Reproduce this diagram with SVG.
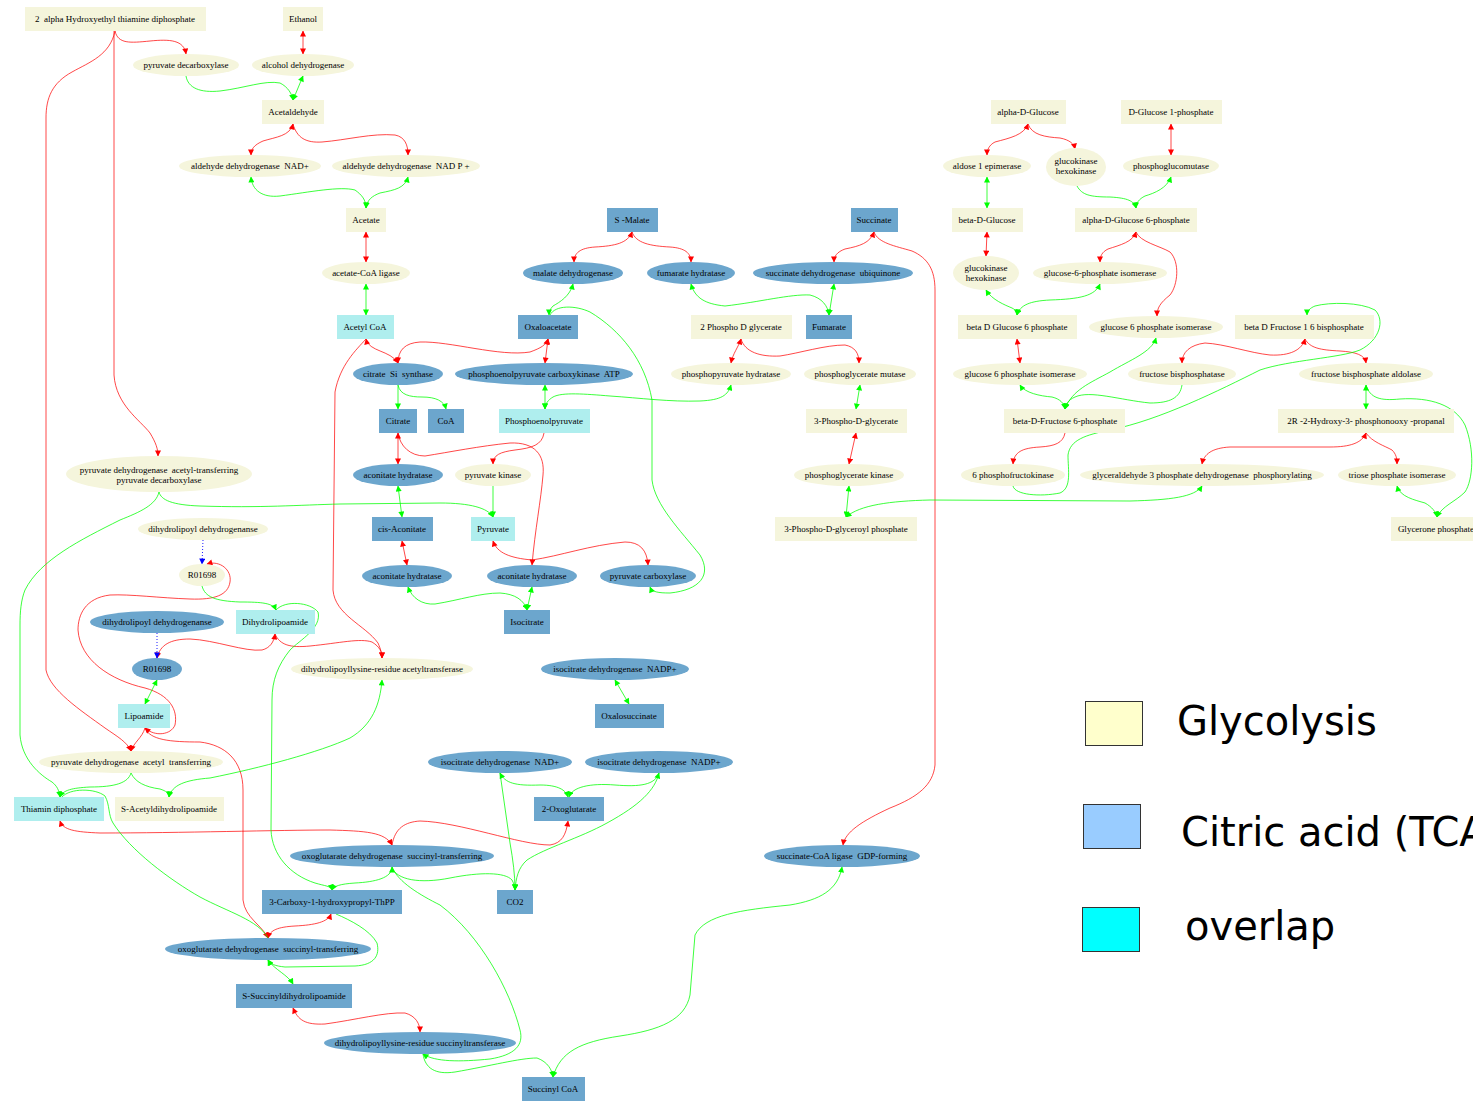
<svg xmlns="http://www.w3.org/2000/svg" width="1473" height="1101" viewBox="0 0 1473 1101">
<style>
path{fill:none;stroke-width:0.9}
.r{stroke:#ff0000;stroke-opacity:.8}.g{stroke:#00ff00;stroke-opacity:.85}.b{stroke:#0000ff;stroke-dasharray:1 2}
.r.e{marker-end:url(#mr)}.r.s{marker-start:url(#mr)}
.g.e{marker-end:url(#mg)}.g.s{marker-start:url(#mg)}
.b.e{marker-end:url(#mb)}
.gl{fill:#f5f5dc}.tc{fill:#6ca6cd}.ov{fill:#afeeee}
text{font-family:"Liberation Serif",serif;font-size:9px;fill:#000;text-anchor:middle;white-space:pre}
.lg{font-family:"DejaVu Sans",sans-serif;font-size:40px;text-anchor:start}
.lb{stroke:#333;stroke-width:1}
</style>
<defs>
<marker id="mr" viewBox="0 0 10 10" refX="9" refY="5" markerWidth="7" markerHeight="6" markerUnits="userSpaceOnUse" orient="auto-start-reverse"><path d="M0,0L10,5L0,10z" style="fill:#ff0000;stroke:none"/></marker>
<marker id="mg" viewBox="0 0 10 10" refX="9" refY="5" markerWidth="7" markerHeight="6" markerUnits="userSpaceOnUse" orient="auto-start-reverse"><path d="M0,0L10,5L0,10z" style="fill:#00ff00;stroke:none"/></marker>
<marker id="mb" viewBox="0 0 10 10" refX="9" refY="5" markerWidth="7" markerHeight="6" markerUnits="userSpaceOnUse" orient="auto-start-reverse"><path d="M0,0L10,5L0,10z" style="fill:#0000ff;stroke:none"/></marker>
</defs>
<rect width="1473" height="1101" fill="#fff"/>
<g id="edges">
<path class="r e" d="M115,31 C118,44 130,43 150,41 C170,39 184,40 186,54"/>
<path class="r e" d="M114,31 L114,375 C116,405 140,420 150,433 C156,443 158,449 158,456"/>
<path class="r e" d="M115,31 C110,55 90,62 72,72 C52,83 46,98 46,118 L46,670 C50,690 80,710 105,728 C118,737 127,742 131,751"/>
<path class="r s e" d="M303,31 L303,54"/>
<path class="r s e" d="M293,124 C290,136 276,137 263,141 C254,145 251,149 251,155"/>
<path class="r e" d="M293,124 C297,138 306,143 322,142 C347,140 372,133 395,135 C405,137 408,145 408,155"/>
<path class="r s e" d="M366,232 L366,262"/>
<path class="r s e" d="M366,339 C369,352 390,350 398,363"/>
<path class="r e" d="M366,339 C356,350 340,365 335,392 L333,590 C335,615 365,625 378,643 C381,650 382,654 382,658"/>
<path class="r s e" d="M398,363 C398,350 405,343 420,342 C450,341 500,357 530,352 C541,348 546,345 548,339"/>
<path class="r s e" d="M548,339 L545,363"/>
<path class="r s e" d="M398,433 L398,464"/>
<path class="r e" d="M398,433 C400,446 410,456 425,456 C450,452 480,446 510,443 C535,442 545,455 543,475 C541,500 535,530 532,565"/>
<path class="r e" d="M544,433 C542,445 532,448 515,450 C500,452 493,455 493,464"/>
<path class="r s e" d="M402,541 L407,565"/>
<path class="r s e" d="M493,541 C497,553 510,558 532,560 C560,556 590,545 625,542 C640,542 647,550 648,565"/>
<path class="r s e" d="M207,564 C220,560 232,570 230,582 C228,595 215,600 190,599 C160,598 130,594 110,595 C85,598 78,615 78,630 C80,660 110,680 145,688 C170,695 178,710 175,725 C171,735 155,737 145,728"/>
<path class="r s e" d="M157,658 C160,645 170,639 190,639 C215,640 245,652 262,650 C270,648 274,642 275,634"/>
<path class="r e" d="M275,634 C280,645 290,648 310,646 C340,643 360,638 372,642 C380,647 382,652 382,658"/>
<path class="r e" d="M145,728 C142,738 134,742 131,751"/>
<path class="r e" d="M145,728 C150,740 170,742 200,742 C225,745 243,760 243,790 L243,900 C245,918 262,925 268,938"/>
<path class="r s e" d="M60,821 C63,830 75,832 100,833 C180,833 280,830 330,830 C365,831 385,832 392,845"/>
<path class="r e" d="M392,845 C395,828 405,822 420,821 C460,822 520,845 550,845 C562,843 566,835 568,821"/>
<path class="r s e" d="M331,914 C328,922 315,925 295,926 C278,927 270,930 268,938"/>
<path class="r s e" d="M293,1008 C298,1020 305,1025 325,1024 C355,1020 385,1012 405,1013 C416,1016 420,1024 420,1032"/>
<path class="r s e" d="M632,232 C628,243 615,246 595,247 C580,248 574,253 574,262"/>
<path class="r e" d="M632,232 C636,243 650,246 670,247 C685,248 691,253 691,262"/>
<path class="r s e" d="M874,232 C870,243 860,246 845,249 C837,252 834,256 834,262"/>
<path class="r e" d="M874,232 C878,243 895,246 912,251 C928,258 935,270 935,290 L935,765 C933,785 918,797 890,808 C862,821 845,832 843,845"/>
<path class="r s e" d="M741,339 C738,348 733,353 731,363"/>
<path class="r e" d="M741,339 C745,352 760,357 780,356 C800,353 825,345 845,345 C855,347 859,353 859,363"/>
<path class="r s e" d="M856,433 L849,464"/>
<path class="r s e" d="M1028,124 C1024,135 1010,138 995,142 C989,145 987,150 987,155"/>
<path class="r e" d="M1028,124 C1032,135 1045,137 1060,138 C1070,140 1074,144 1075,149"/>
<path class="r s e" d="M1171,124 L1171,155"/>
<path class="r s e" d="M987,232 L986,256"/>
<path class="r s e" d="M1136,232 C1133,242 1120,245 1108,249 C1102,252 1100,256 1100,262"/>
<path class="r e" d="M1136,232 C1140,242 1160,246 1170,252 C1180,262 1178,285 1170,295 C1160,303 1157,308 1157,316"/>
<path class="r s e" d="M1017,339 L1020,363"/>
<path class="r s e" d="M1305,339 C1302,350 1290,356 1270,355 C1250,353 1225,344 1205,343 C1190,345 1182,352 1182,363"/>
<path class="r e" d="M1305,339 C1310,348 1320,350 1340,351 C1356,352 1365,355 1366,363"/>
<path class="r s e" d="M1366,433 C1362,443 1350,447 1330,447 L1230,447 C1212,448 1204,454 1202,464"/>
<path class="r e" d="M1366,433 C1372,442 1385,446 1392,450 C1396,454 1397,458 1397,464"/>
<path class="r e" d="M1065,433 C1063,443 1055,446 1040,447 C1022,448 1014,452 1013,464"/>
<path class="g e" d="M186,76 C188,88 200,93 220,91 C245,88 265,80 280,83 C288,87 292,94 293,100"/>
<path class="g s e" d="M303,76 L293,100"/>
<path class="g s e" d="M251,177 C252,190 262,198 280,196 C310,192 340,186 355,190 C362,195 366,200 366,208"/>
<path class="g s e" d="M408,177 C405,188 395,190 380,193 C372,196 367,200 366,208"/>
<path class="g s e" d="M366,284 L366,315"/>
<path class="g e" d="M398,385 L398,409"/>
<path class="g e" d="M398,385 C400,395 410,397 422,397 C436,397 444,401 446,409"/>
<path class="g s e" d="M545,385 L545,409"/>
<path class="g s e" d="M731,385 C728,395 722,400 700,401 C670,402 640,398 610,396 C585,394 562,392 553,397 C548,400 545,404 545,409"/>
<path class="g e" d="M493,486 L493,517"/>
<path class="g e" d="M159,492 C161,500 172,505 200,506 C260,508 300,505 340,504 L440,503 C470,503 488,508 493,517"/>
<path class="g e" d="M159,492 C156,505 140,512 120,520 C80,540 40,560 25,590 C21,600 20,612 20,625 L20,735 C22,760 40,775 52,782 C57,786 59,790 60,797"/>
<path class="g s e" d="M398,486 L402,517"/>
<path class="g s e" d="M408,587 C412,598 422,605 435,604 C460,600 480,593 500,593 C515,594 524,600 527,610"/>
<path class="g s e" d="M532,587 L527,610"/>
<path class="g e" d="M550,315 C555,305 575,305 590,312 C620,330 645,360 652,400 L652,480 C655,505 680,530 700,555 C712,575 700,590 670,593 C658,593 652,592 650,587"/>
<path class="g s e" d="M573,284 C570,296 560,302 553,306 C550,309 549,312 549,315"/>
<path class="g s e" d="M691,284 C695,298 705,304 725,306 C760,302 790,294 810,295 C822,298 828,306 829,315"/>
<path class="g s e" d="M834,284 L829,315"/>
<path class="g s e" d="M860,385 L856,409"/>
<path class="g s e" d="M849,486 L846,517"/>
<path class="g s e" d="M1202,486 C1195,497 1170,500 1130,501 L930,500 C890,501 860,505 846,517"/>
<path class="g e" d="M202,586 C205,597 215,601 240,602 C262,602 273,603 276,610"/>
<path class="g e" d="M276,610 C285,600 310,602 318,612 C322,628 300,640 290,650 C278,665 272,680 272,700 L271,830 C272,855 290,875 315,883 C325,886 331,886 332,890"/>
<path class="g s e" d="M157,680 L145,704"/>
<path class="g e" d="M131,773 C128,783 115,787 90,787 C72,788 63,790 60,797"/>
<path class="g e" d="M131,773 C135,782 145,787 160,789 C166,791 169,793 169,797"/>
<path class="g s e" d="M169,797 C172,785 185,780 210,778 C260,768 320,752 350,738 C372,725 380,705 382,680"/>
<path class="g" d="M62,797 C70,788 95,788 105,796 C110,805 108,815 113,823 C130,850 170,880 200,897 C228,912 258,920 268,938"/>
<path class="g s e" d="M392,867 C392,878 375,882 355,883 C340,884 334,886 332,890"/>
<path class="g e" d="M392,867 C396,880 420,884 450,878 C480,872 505,872 512,880 C514,884 515,886 515,890"/>
<path class="g e" d="M392,867 C398,882 420,895 440,905 C480,935 510,990 520,1030 C524,1045 515,1055 490,1059 C460,1062 435,1062 423,1054"/>
<path class="g s e" d="M500,773 C505,783 515,786 540,785 C558,785 566,790 568,797"/>
<path class="g s e" d="M659,773 C655,785 640,787 615,785 C590,783 572,787 569,797"/>
<path class="g e" d="M500,773 L510,843 C513,860 515,875 515,890"/>
<path class="g e" d="M659,773 C655,790 640,805 607,823 C580,838 545,848 527,860 C518,868 516,878 515,890"/>
<path class="g s e" d="M615,680 L629,704"/>
<path class="g s e" d="M268,960 C275,970 288,975 293,984"/>
<path class="g e" d="M336,914 C350,920 370,930 377,943 C380,955 375,965 355,966 L285,967 C275,966 270,964 268,960"/>
<path class="g e" d="M423,1054 C425,1068 435,1075 455,1072 C490,1066 520,1058 537,1058 C548,1062 552,1070 553,1077"/>
<path class="g s e" d="M842,867 C838,890 820,900 790,905 C740,910 705,915 695,935 L690,995 C685,1020 660,1030 620,1036 C580,1042 560,1052 553,1077"/>
<path class="g s e" d="M987,177 L987,208"/>
<path class="g e" d="M1077,186 C1082,195 1090,197 1110,197 C1128,198 1134,201 1136,208"/>
<path class="g s e" d="M1171,177 C1167,188 1155,193 1145,196 C1139,199 1136,203 1136,208"/>
<path class="g s e" d="M986,290 C992,300 1005,305 1012,308 C1016,310 1017,312 1017,315"/>
<path class="g s e" d="M1100,284 C1095,296 1080,299 1050,300 C1030,301 1020,305 1017,315"/>
<path class="g s e" d="M1020,385 C1025,393 1040,396 1052,397 C1060,399 1064,403 1065,409"/>
<path class="g s e" d="M1156,338 C1152,352 1130,360 1110,372 C1090,383 1072,390 1065,409"/>
<path class="g e" d="M1182,385 C1180,398 1170,403 1150,403 C1120,400 1090,390 1075,397 C1068,400 1066,404 1065,409"/>
<path class="g e" d="M1013,486 C1015,495 1040,497 1060,493 C1072,488 1068,470 1068,455 C1070,440 1085,435 1110,430 C1160,420 1220,390 1260,370 C1290,360 1340,358 1360,350 C1380,340 1385,320 1375,310 C1360,302 1330,302 1315,306 C1310,308 1307,311 1307,315"/>
<path class="g s e" d="M1366,385 L1366,409"/>
<path class="g e" d="M1366,385 C1370,398 1380,401 1400,399 C1430,397 1455,405 1465,425 C1475,450 1473,480 1465,492 C1455,502 1442,506 1437,517"/>
<path class="g s e" d="M1397,486 C1400,497 1415,500 1425,503 C1432,507 1436,512 1437,517"/>
<path class="b e" d="M203,540 L202,564"/>
<path class="b e" d="M157,633 L157,658"/>
</g>
<g id="n-hethpp"><rect class="gl" x="25" y="7" width="181" height="24"/><text x="115" y="22">2  alpha Hydroxyethyl thiamine diphosphate</text></g>
<g id="n-ethanol"><rect class="gl" x="283" y="7" width="40" height="24"/><text x="303" y="22">Ethanol</text></g>
<g id="n-pdc"><ellipse class="gl" cx="186" cy="65" rx="53" ry="11"/><text x="186" y="68">pyruvate decarboxylase</text></g>
<g id="n-adh"><ellipse class="gl" cx="303" cy="65" rx="51" ry="11"/><text x="303" y="68">alcohol dehydrogenase</text></g>
<g id="n-acetaldehyde"><rect class="gl" x="262" y="100" width="62" height="24"/><text x="293" y="115">Acetaldehyde</text></g>
<g id="n-aldh1"><ellipse class="gl" cx="250" cy="166" rx="71" ry="11"/><text x="250" y="169">aldehyde dehydrogenase  NAD+</text></g>
<g id="n-aldh2"><ellipse class="gl" cx="406" cy="166" rx="74" ry="11"/><text x="406" y="169">aldehyde dehydrogenase  NAD P +</text></g>
<g id="n-acetate"><rect class="gl" x="346" y="208" width="40" height="24"/><text x="366" y="223">Acetate</text></g>
<g id="n-acs"><ellipse class="gl" cx="366" cy="273" rx="44" ry="11"/><text x="366" y="276">acetate-CoA ligase</text></g>
<g id="n-acetylcoa"><rect class="ov" x="337" y="315" width="57" height="24"/><text x="365" y="330">Acetyl CoA</text></g>
<g id="n-cs"><ellipse class="tc" cx="398" cy="374" rx="45" ry="11"/><text x="398" y="377">citrate  Si  synthase</text></g>
<g id="n-pepck"><ellipse class="tc" cx="544" cy="374" rx="89" ry="11"/><text x="544" y="377">phosphoenolpyruvate carboxykinase  ATP</text></g>
<g id="n-citrate"><rect class="tc" x="379" y="409" width="38" height="24"/><text x="398" y="424">Citrate</text></g>
<g id="n-coa"><rect class="tc" x="428" y="409" width="36" height="24"/><text x="446" y="424">CoA</text></g>
<g id="n-pep"><rect class="ov" x="499" y="409" width="91" height="24"/><text x="544" y="424">Phosphoenolpyruvate</text></g>
<g id="n-aco1"><ellipse class="tc" cx="398" cy="475" rx="45" ry="11"/><text x="398" y="478">aconitate hydratase</text></g>
<g id="n-pk"><ellipse class="gl" cx="493" cy="475" rx="38" ry="11"/><text x="493" y="478">pyruvate kinase</text></g>
<g id="n-pdh1"><ellipse class="gl" cx="159" cy="474" rx="93" ry="18"/><text x="159" y="473">pyruvate dehydrogenase  acetyl-transferring</text><text x="159" y="483">pyruvate decarboxylase</text></g>
<g id="n-dld1"><ellipse class="gl" cx="203" cy="529" rx="65" ry="11"/><text x="203" y="532">dihydrolipoyl dehydrogenanse</text></g>
<g id="n-cisaco"><rect class="tc" x="372" y="517" width="61" height="24"/><text x="402" y="532">cis-Aconitate</text></g>
<g id="n-pyruvate"><rect class="ov" x="471" y="517" width="44" height="24"/><text x="493" y="532">Pyruvate</text></g>
<g id="n-r01698a"><ellipse class="gl" cx="202" cy="575" rx="23" ry="11"/><text x="202" y="578">R01698</text></g>
<g id="n-aco3"><ellipse class="tc" cx="407" cy="576" rx="45" ry="11"/><text x="407" y="579">aconitate hydratase</text></g>
<g id="n-aco2"><ellipse class="tc" cx="532" cy="576" rx="45" ry="11"/><text x="532" y="579">aconitate hydratase</text></g>
<g id="n-pc"><ellipse class="tc" cx="648" cy="576" rx="48" ry="11"/><text x="648" y="579">pyruvate carboxylase</text></g>
<g id="n-dld2"><ellipse class="tc" cx="157" cy="622" rx="67" ry="11"/><text x="157" y="625">dihydrolipoyl dehydrogenanse</text></g>
<g id="n-dihydrolipoamide"><rect class="ov" x="236" y="610" width="79" height="24"/><text x="275" y="625">Dihydrolipoamide</text></g>
<g id="n-isocitrate"><rect class="tc" x="504" y="610" width="46" height="24"/><text x="527" y="625">Isocitrate</text></g>
<g id="n-r01698b"><ellipse class="tc" cx="157" cy="669" rx="25" ry="11"/><text x="157" y="672">R01698</text></g>
<g id="n-dlat"><ellipse class="gl" cx="382" cy="669" rx="91" ry="11"/><text x="382" y="672">dihydrolipoyllysine-residue acetyltransferase</text></g>
<g id="n-idh1"><ellipse class="tc" cx="615" cy="669" rx="74" ry="11"/><text x="615" y="672">isocitrate dehydrogenase  NADP+</text></g>
<g id="n-lipoamide"><rect class="ov" x="118" y="704" width="52" height="24"/><text x="144" y="719">Lipoamide</text></g>
<g id="n-oxalosuccinate"><rect class="tc" x="595" y="704" width="69" height="24"/><text x="629" y="719">Oxalosuccinate</text></g>
<g id="n-pdh2"><ellipse class="gl" cx="131" cy="762" rx="92" ry="11"/><text x="131" y="765">pyruvate dehydrogenase  acetyl  transferring</text></g>
<g id="n-idh2"><ellipse class="tc" cx="500" cy="762" rx="72" ry="11"/><text x="500" y="765">isocitrate dehydrogenase  NAD+</text></g>
<g id="n-idh3"><ellipse class="tc" cx="659" cy="762" rx="74" ry="11"/><text x="659" y="765">isocitrate dehydrogenase  NADP+</text></g>
<g id="n-thiamin"><rect class="ov" x="14" y="797" width="90" height="24"/><text x="59" y="812">Thiamin diphosphate</text></g>
<g id="n-sacetyl"><rect class="gl" x="115" y="797" width="109" height="24"/><text x="169" y="812">S-Acetyldihydrolipoamide</text></g>
<g id="n-oxoglutarate"><rect class="tc" x="534" y="797" width="70" height="24"/><text x="569" y="812">2-Oxoglutarate</text></g>
<g id="n-ogdh1"><ellipse class="tc" cx="392" cy="856" rx="102" ry="11"/><text x="392" y="859">oxoglutarate dehydrogenase  succinyl-transferring</text></g>
<g id="n-sucl"><ellipse class="tc" cx="842" cy="856" rx="78" ry="11"/><text x="842" y="859">succinate-CoA ligase  GDP-forming</text></g>
<g id="n-carboxy"><rect class="tc" x="262" y="890" width="140" height="24"/><text x="332" y="905">3-Carboxy-1-hydroxypropyl-ThPP</text></g>
<g id="n-co2"><rect class="tc" x="497" y="890" width="36" height="24"/><text x="515" y="905">CO2</text></g>
<g id="n-ogdh2"><ellipse class="tc" cx="268" cy="949" rx="103" ry="11"/><text x="268" y="952">oxoglutarate dehydrogenase  succinyl-transferring</text></g>
<g id="n-ssucc"><rect class="tc" x="236" y="984" width="116" height="24"/><text x="294" y="999">S-Succinyldihydrolipoamide</text></g>
<g id="n-dlst"><ellipse class="tc" cx="420" cy="1043" rx="96" ry="11"/><text x="420" y="1046">dihydrolipoyllysine-residue succinyltransferase</text></g>
<g id="n-succoa"><rect class="tc" x="522" y="1077" width="63" height="24"/><text x="553" y="1092">Succinyl CoA</text></g>
<g id="n-malate"><rect class="tc" x="607" y="208" width="51" height="24"/><text x="632" y="223">S -Malate</text></g>
<g id="n-succinate"><rect class="tc" x="851" y="208" width="47" height="24"/><text x="874" y="223">Succinate</text></g>
<g id="n-mdh"><ellipse class="tc" cx="573" cy="273" rx="50" ry="11"/><text x="573" y="276">malate dehydrogenase</text></g>
<g id="n-fh"><ellipse class="tc" cx="691" cy="273" rx="44" ry="11"/><text x="691" y="276">fumarate hydratase</text></g>
<g id="n-sdh"><ellipse class="tc" cx="833" cy="273" rx="80" ry="11"/><text x="833" y="276">succinate dehydrogenase  ubiquinone</text></g>
<g id="n-oaa"><rect class="tc" x="518" y="315" width="60" height="24"/><text x="548" y="330">Oxaloacetate</text></g>
<g id="n-2pg"><rect class="gl" x="691" y="315" width="101" height="24"/><text x="741" y="330">2 Phospho D glycerate</text></g>
<g id="n-fumarate"><rect class="tc" x="806" y="315" width="46" height="24"/><text x="829" y="330">Fumarate</text></g>
<g id="n-eno"><ellipse class="gl" cx="731" cy="374" rx="60" ry="11"/><text x="731" y="377">phosphopyruvate hydratase</text></g>
<g id="n-pgm"><ellipse class="gl" cx="860" cy="374" rx="56" ry="11"/><text x="860" y="377">phosphoglycerate mutase</text></g>
<g id="n-3pg"><rect class="gl" x="806" y="409" width="101" height="24"/><text x="856" y="424">3-Phospho-D-glycerate</text></g>
<g id="n-pgk"><ellipse class="gl" cx="849" cy="475" rx="55" ry="11"/><text x="849" y="478">phosphoglycerate kinase</text></g>
<g id="n-13bpg"><rect class="gl" x="775" y="517" width="142" height="24"/><text x="846" y="532">3-Phospho-D-glyceroyl phosphate</text></g>
<g id="n-aglc"><rect class="gl" x="991" y="100" width="75" height="24"/><text x="1028" y="115">alpha-D-Glucose</text></g>
<g id="n-g1p"><rect class="gl" x="1121" y="100" width="101" height="24"/><text x="1171" y="115">D-Glucose 1-phosphate</text></g>
<g id="n-gale"><ellipse class="gl" cx="987" cy="166" rx="44" ry="11"/><text x="987" y="169">aldose 1 epimerase</text></g>
<g id="n-gck1"><ellipse class="gl" cx="1076" cy="167" rx="30" ry="19"/><text x="1076" y="164">glucokinase</text><text x="1076" y="174">hexokinase</text></g>
<g id="n-pgm2"><ellipse class="gl" cx="1171" cy="166" rx="48" ry="11"/><text x="1171" y="169">phosphoglucomutase</text></g>
<g id="n-bglc"><rect class="gl" x="952" y="208" width="71" height="24"/><text x="987" y="223">beta-D-Glucose</text></g>
<g id="n-ag6p"><rect class="gl" x="1075" y="208" width="122" height="24"/><text x="1136" y="223">alpha-D-Glucose 6-phosphate</text></g>
<g id="n-gck2"><ellipse class="gl" cx="986" cy="273" rx="33" ry="17"/><text x="986" y="271">glucokinase</text><text x="986" y="281">hexokinase</text></g>
<g id="n-gpi1"><ellipse class="gl" cx="1100" cy="273" rx="67" ry="11"/><text x="1100" y="276">glucose-6-phosphate isomerase</text></g>
<g id="n-bg6p"><rect class="gl" x="958" y="315" width="119" height="24"/><text x="1017" y="330">beta D Glucose 6 phosphate</text></g>
<g id="n-gpi2"><ellipse class="gl" cx="1156" cy="327" rx="67" ry="11"/><text x="1156" y="330">glucose 6 phosphate isomerase</text></g>
<g id="n-fbp"><rect class="gl" x="1235" y="315" width="139" height="24"/><text x="1304" y="330">beta D Fructose 1 6 bisphosphate</text></g>
<g id="n-gpi3"><ellipse class="gl" cx="1020" cy="374" rx="67" ry="11"/><text x="1020" y="377">glucose 6 phosphate isomerase</text></g>
<g id="n-fbpase"><ellipse class="gl" cx="1182" cy="374" rx="54" ry="11"/><text x="1182" y="377">fructose bisphosphatase</text></g>
<g id="n-aldo"><ellipse class="gl" cx="1366" cy="374" rx="67" ry="11"/><text x="1366" y="377">fructose bisphosphate aldolase</text></g>
<g id="n-bf6p"><rect class="gl" x="1004" y="409" width="121" height="24"/><text x="1065" y="424">beta-D-Fructose 6-phosphate</text></g>
<g id="n-g3p"><rect class="gl" x="1278" y="409" width="176" height="24"/><text x="1366" y="424">2R -2-Hydroxy-3- phosphonooxy -propanal</text></g>
<g id="n-pfk"><ellipse class="gl" cx="1013" cy="475" rx="52" ry="11"/><text x="1013" y="478">6 phosphofructokinase</text></g>
<g id="n-gapdh"><ellipse class="gl" cx="1202" cy="475" rx="122" ry="11"/><text x="1202" y="478">glyceraldehyde 3 phosphate dehydrogenase  phosphorylating</text></g>
<g id="n-tpi"><ellipse class="gl" cx="1397" cy="475" rx="59" ry="11"/><text x="1397" y="478">triose phosphate isomerase</text></g>
<g id="n-dhap"><rect class="gl" x="1391" y="517" width="90" height="24"/><text x="1436" y="532">Glycerone phosphate</text></g>
<g id="legend">
<rect class="lb" x="1085.5" y="701.5" width="57" height="44" fill="#ffffcc"/>
<text class="lg" x="1177" y="735">Glycolysis</text>
<rect class="lb" x="1083.5" y="804.5" width="57" height="44" fill="#99ccff"/>
<text class="lg" x="1181" y="846">Citric acid (TCA)</text>
<rect class="lb" x="1082.5" y="907.5" width="57" height="44" fill="#00ffff"/>
<text class="lg" x="1185" y="940">overlap</text>
</g>
</svg>
